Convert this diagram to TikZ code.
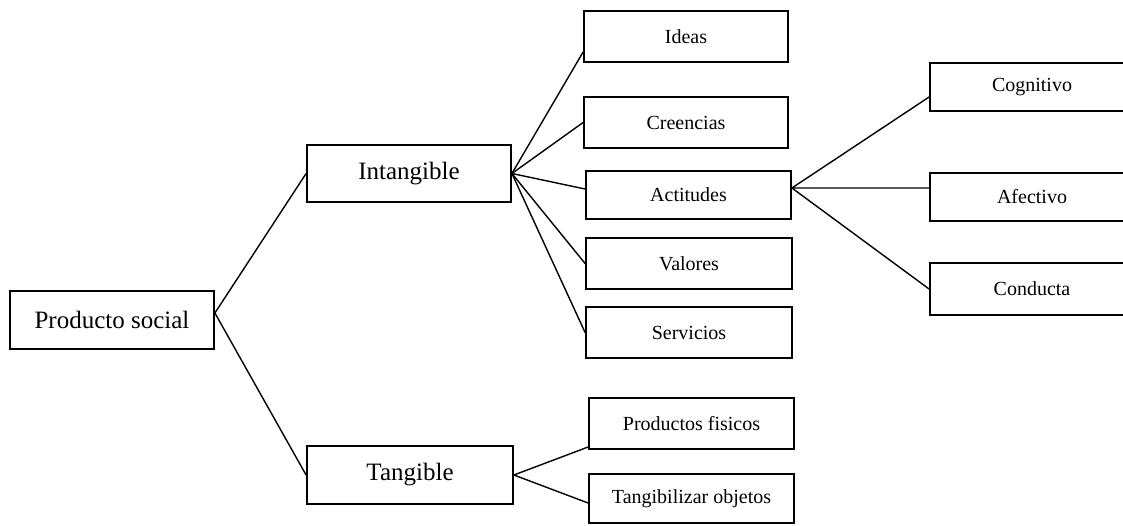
\documentclass[tikz,border=0pt]{standalone}
\usepackage{fontspec}
\setmainfont{Liberation Serif}
\begin{document}
\begin{tikzpicture}[x=0.5pt,y=-0.5pt,
  box/.style={draw,line width=0.9pt,rectangle,inner sep=0pt,anchor=center},
  bigbox/.style={box,font=\fontsize{12.5}{14}\selectfont},
  smallbox/.style={box,font=\fontsize{10}{12}\selectfont},
  link/.style={line width=0.7pt}]
\clip (0,0) rectangle (1123,525);
% root and first level
\node[bigbox,minimum width=102pt,minimum height=29pt] (ps) at (112,320) {Producto social};
\node[bigbox,minimum width=102pt,minimum height=28.5pt] (intang) at (409,173.5) {Intangible};
\node[bigbox,minimum width=103pt,minimum height=29pt] (tang) at (410,475) {Tangible};
% intangible branch
\node[smallbox,minimum width=102pt,minimum height=25.5pt] (ideas) at (686,36.5) {Ideas};
\node[smallbox,minimum width=102pt,minimum height=25.5pt] (creencias) at (686,122.5) {Creencias};
\node[smallbox,minimum width=102.5pt,minimum height=24pt] (actitudes) at (688.5,195) {Actitudes};
\node[smallbox,minimum width=103pt,minimum height=25.5pt] (valores) at (689,263.5) {Valores};
\node[smallbox,minimum width=103pt,minimum height=25.5pt] (servicios) at (689,332.5) {Servicios};
% attitude components
\node[smallbox,minimum width=102pt,minimum height=24pt] (cognitivo) at (1032,87) {Cognitivo};
\node[smallbox,minimum width=102pt,minimum height=24pt] (afectivo) at (1032,197) {Afectivo};
\node[smallbox,minimum width=102pt,minimum height=26pt] (conducta) at (1032,289) {Conducta};
% tangible branch
\node[smallbox,minimum width=102.5pt,minimum height=25.5pt] (productos) at (691.5,423.5) {Productos fisicos};
\node[smallbox,minimum width=102.5pt,minimum height=24.5pt] (tangibilizar) at (691.5,498.5) {Tangibilizar objetos};
% connectors
\draw[link] (intang.west) -- ([yshift=3.5pt]ps.east) -- (tang.west);
\draw[link] (intang.east) -- ([yshift=-7.75pt]ideas.west);
\draw[link] (intang.east) -- (creencias.west);
\draw[link] (intang.east) -- ([yshift=3pt]actitudes.west);
\draw[link] (intang.east) -- (valores.west);
\draw[link] (intang.east) -- (servicios.west);
\draw[link] ([yshift=-5pt]cognitivo.west) -- ([yshift=3.5pt]actitudes.east) -- ([yshift=4.5pt]afectivo.west);
\draw[link] ([yshift=3.5pt]actitudes.east) -- (conducta.west);
\draw[link] ([yshift=-11.75pt]productos.west) -- (tang.east) -- ([yshift=-2.25pt]tangibilizar.west);
\end{tikzpicture}
\end{document}
